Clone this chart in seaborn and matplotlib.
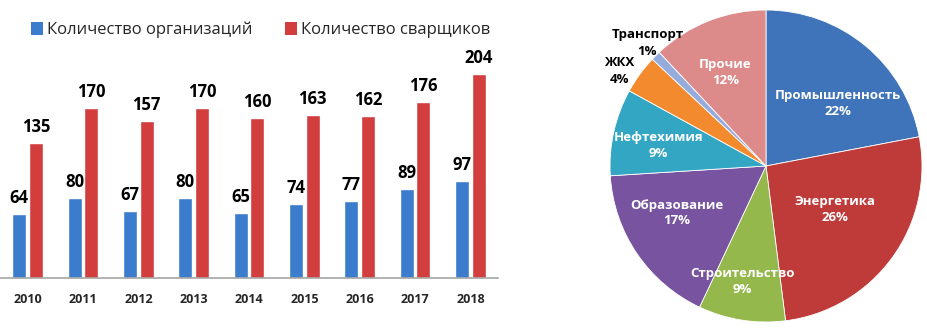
import matplotlib
matplotlib.use("Agg")
import matplotlib.pyplot as plt
import seaborn as sns
import pandas as pd
from matplotlib.patches import Patch

# ---------------- data ----------------
years = ['2010', '2011', '2012', '2013', '2014', '2015', '2016', '2017', '2018']
orgs = [64, 80, 67, 80, 65, 74, 77, 89, 97]
welders = [135, 170, 157, 170, 160, 163, 162, 176, 204]
series_names = ['Количество организаций', 'Количество сварщиков']

sectors = ['Промышленность', 'Энергетика', 'Строительство', 'Образование',
           'Нефтехимия', 'ЖКХ', 'Транспорт', 'Прочие']
shares = [22, 26, 9, 17, 9, 4, 1, 12]

# ---------------- style ----------------
sns.set_style("white")
plt.rcParams['font.family'] = ['Open Sans', 'DejaVu Sans']

bar_colors = ['#3B7CCD', '#D23E3E']
pie_colors = ['#3F74BA', '#BE3B3A', '#94B84B', '#7753A0',
              '#33A6C4', '#F38A2D', '#94ABDB', '#DD8A8A']
label_pos = [(0.46, 0.40), (0.44, -0.28), (-0.15, -0.74), (-0.57, -0.30),
             (-0.69, 0.13), (-0.94, 0.61), (-0.76, 0.79), (-0.26, 0.60)]
label_col = ['white', 'white', 'white', 'white', 'white', 'black', 'black', 'white']

W, H = 927, 331
fig = plt.figure(figsize=(W / 100, H / 100), dpi=100)
fig.patch.set_facecolor('white')

# ---------------- bar chart ----------------
ax = fig.add_axes([0 / W, (H - 278) / H, 498 / W, 238 / H])
df = pd.DataFrame({
    'year': years * 2,
    'value': orgs + welders,
    'series': [series_names[0]] * len(years) + [series_names[1]] * len(years),
})
sns.barplot(data=df, x='year', y='value', hue='series', palette=bar_colors,
            width=0.6, gap=0.15, ax=ax, legend=False, saturation=1)
ax.set_ylim(0, 238)
ax.set_xlim(-0.5, len(years) - 0.5)
for c in ax.containers:
    ax.bar_label(c, padding=5, fontsize=12, fontweight='bold', color='black')
ax.set_xlabel('')
ax.set_ylabel('')
ax.set_yticks([])
for s in ['top', 'right', 'left']:
    ax.spines[s].set_visible(False)
ax.spines['bottom'].set_color('#A6A6A6')
ax.spines['bottom'].set_linewidth(1.2)
ax.tick_params(axis='x', length=0, pad=11)
for t in ax.get_xticklabels():
    t.set_fontweight('bold')
    t.set_fontsize(9)
ax.set_facecolor('none')

handles = [Patch(facecolor=c, edgecolor='none') for c in bar_colors]
fig.legend(handles, series_names, loc='center left',
           bbox_to_anchor=(24 / W, 1 - 30 / H), ncol=2, frameon=False,
           fontsize=12, handlelength=0.75, handleheight=0.75,
           handletextpad=0.25, columnspacing=1.9, borderaxespad=0)

# ---------------- pie chart ----------------
cx, cy, R = 766, 166, 156
ax2 = fig.add_axes([(cx - R) / W, (H - cy - R) / H, 2 * R / W, 2 * R / H])
ax2.pie(shares, colors=pie_colors, startangle=90, counterclock=False,
        radius=1, wedgeprops=dict(linewidth=0.6, edgecolor='white'))
ax2.set_xlim(-1, 1)
ax2.set_ylim(-1, 1)
ax2.set_aspect('auto')
ax2.axis('off')
for name, val, (lx, ly), col in zip(sectors, shares, label_pos, label_col):
    small = col == 'black'
    ax2.text(lx, ly, f"{name}\n{val}%", ha='center', va='center',
             fontsize=9.5, fontweight='bold', color=col,
             linespacing=1.45 if small else 1.25)

fig.savefig('out.png', dpi=100, facecolor='white')
